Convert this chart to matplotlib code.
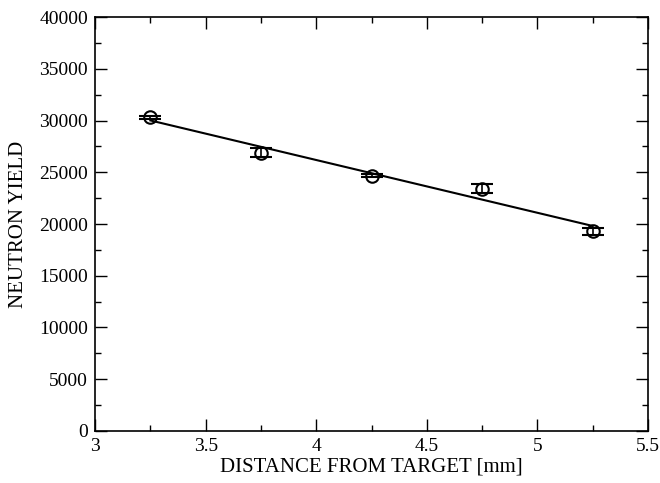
import numpy as np
import matplotlib
matplotlib.use("Agg")
import matplotlib.pyplot as plt
from matplotlib.ticker import MultipleLocator

distance = [3.25, 3.75, 4.25, 4.75, 5.25]
neutron_yield = [30300, 26900, 24650, 23400, 19300]
yield_err = [170, 400, 150, 430, 350]

plt.rcParams['font.family'] = ['Liberation Serif', 'DejaVu Serif']
plt.rcParams['font.size'] = 14

fig = plt.figure(figsize=(6.6, 4.83), dpi=100)
ax = fig.add_axes([0.144, 0.1077, 0.8379, 0.857])

coef = np.polyfit(distance, neutron_yield, 1)
fx = np.array([distance[0], distance[-1]])
ax.plot(fx, np.polyval(coef, fx), color='black', lw=1.5)

ax.errorbar(distance, neutron_yield, yerr=yield_err, fmt='o', mfc='none',
            mec='black', ms=9, mew=1.5, ecolor='black', elinewidth=1.2,
            capsize=8, capthick=1.5)

ax.set_xlim(3, 5.5)
ax.set_ylim(0, 40000)
ax.set_xticks([3, 3.5, 4, 4.5, 5, 5.5])
ax.set_xticklabels(['3', '3.5', '4', '4.5', '5', '5.5'])
ax.xaxis.set_minor_locator(MultipleLocator(0.25))
ax.yaxis.set_major_locator(MultipleLocator(5000))
ax.yaxis.set_minor_locator(MultipleLocator(2500))
ax.tick_params(which='both', direction='in', top=True, right=True, width=1.0)
ax.tick_params(which='major', length=8.5, pad=5)
ax.tick_params(which='minor', length=4.3)
for s in ax.spines.values():
    s.set_linewidth(1.2)

ax.set_xlabel('DISTANCE FROM TARGET [mm]', fontsize=15, labelpad=2)
ax.set_ylabel('NEUTRON YIELD', fontsize=15, labelpad=8)

fig.savefig('out.png', dpi=100)
